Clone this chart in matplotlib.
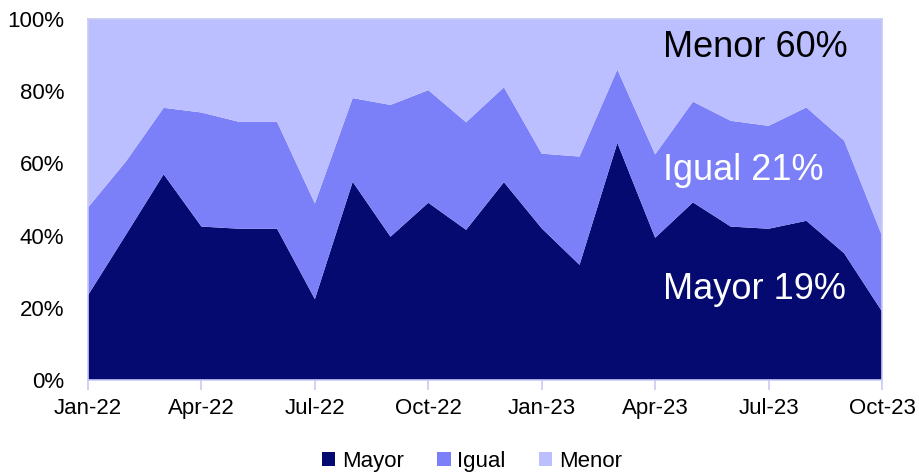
import matplotlib
matplotlib.use("Agg")
import matplotlib.pyplot as plt
from matplotlib.patches import Patch

plt.rcParams['font.family'] = ['Liberation Sans', 'DejaVu Sans']

months = ['Jan-22', 'Feb-22', 'Mar-22', 'Apr-22', 'May-22', 'Jun-22', 'Jul-22', 'Aug-22',
          'Sep-22', 'Oct-22', 'Nov-22', 'Dec-22', 'Jan-23', 'Feb-23', 'Mar-23', 'Apr-23',
          'May-23', 'Jun-23', 'Jul-23', 'Aug-23', 'Sep-23', 'Oct-23']
mayor = [23.5, 40.2, 57.0, 42.5, 41.9, 41.9, 22.4, 54.9, 39.7, 49.1, 41.6, 54.8,
         42.0, 31.9, 65.7, 39.4, 49.2, 42.5, 41.9, 44.1, 35.1, 19.0]
mayor_igual = [47.8, 60.5, 75.4, 74.1, 71.5, 71.5, 48.9, 78.1, 76.2, 80.3, 71.4, 81.1,
               62.7, 61.9, 86.0, 62.5, 77.1, 71.8, 70.4, 75.5, 66.3, 40.0]
igual = [t - m for t, m in zip(mayor_igual, mayor)]
menor = [100 - t for t in mayor_igual]

tick_labels = ['Jan-22', 'Apr-22', 'Jul-22', 'Oct-22', 'Jan-23', 'Apr-23', 'Jul-23', 'Oct-23']
tick_pos = [months.index(t) for t in tick_labels]

c_mayor = '#050A70'
c_igual = '#7B80F8'
c_menor = '#BBBEFF'
c_axis = '#C8CAF5'

fig = plt.figure(figsize=(9.2, 4.75), dpi=100)
ax = fig.add_axes([0.0957, 0.2, 0.8630, 0.76])

x = list(range(len(months)))
ax.stackplot(x, mayor, igual, menor, colors=[c_mayor, c_igual, c_menor], linewidth=0)

ax.set_xlim(0, len(months) - 1)
ax.set_ylim(0, 100)
ax.set_yticks(range(0, 101, 20))
ax.set_yticklabels([f'{v}%' for v in range(0, 101, 20)])
ax.set_xticks(tick_pos)
ax.set_xticklabels(tick_labels)
ax.tick_params(axis='both', labelsize=16, colors=c_axis, labelcolor='black')
ax.tick_params(axis='y', length=0, pad=17)
ax.tick_params(axis='x', length=7, width=1.2, pad=6, direction='out')
for s in ax.spines.values():
    s.set_color(c_axis)
    s.set_linewidth(1.2)

ax.text(15.2, 92, 'Menor 60%', fontsize=26, color='black', va='center', ha='left')
ax.text(15.2, 58, 'Igual 21%', fontsize=26, color='white', va='center', ha='left')
ax.text(15.2, 25, 'Mayor 19%', fontsize=26, color='white', va='center', ha='left')

handles = [Patch(facecolor=c_mayor, label='Mayor'),
           Patch(facecolor=c_igual, label='Igual'),
           Patch(facecolor=c_menor, label='Menor')]
fig.legend(handles=handles, loc='lower center', bbox_to_anchor=(0.513, -0.035), ncol=3,
           frameon=False, fontsize=16, handlelength=0.6, handleheight=0.6,
           handletextpad=0.3, columnspacing=1.5)

fig.savefig('out.png', dpi=100)
